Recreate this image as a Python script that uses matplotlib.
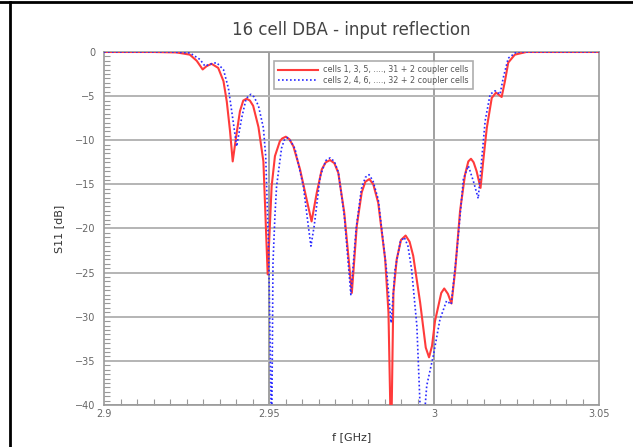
import matplotlib
matplotlib.use("Agg")
import matplotlib.pyplot as plt
from matplotlib.lines import Line2D
import numpy as np

# cells 1, 3, 5, ..., 31 + 2 coupler cells
f_odd = [2.900, 2.915, 2.922, 2.926, 2.9281, 2.9299, 2.9311, 2.9326, 2.9346, 2.9362,
         2.9372, 2.9382, 2.9390, 2.9400, 2.9412, 2.9422, 2.9432, 2.9442, 2.9452, 2.9468,
         2.9483, 2.9496, 2.9508, 2.9518, 2.9533, 2.9540, 2.9551, 2.9562, 2.9574, 2.9594,
         2.9614, 2.9629, 2.9645, 2.9660, 2.9672, 2.9685, 2.9698, 2.9710, 2.9728, 2.9751,
         2.9766, 2.9781, 2.9792, 2.9804, 2.9816, 2.9831, 2.9852, 2.9862, 2.9870, 2.9877,
         2.9887, 2.9900, 2.9914, 2.9926, 2.9937, 2.9958, 2.9975, 2.9985, 2.9994, 3.0003,
         3.0022, 3.0031, 3.0042, 3.0053, 3.0064, 3.0079, 3.0094, 3.0104, 3.0112, 3.0120,
         3.0129, 3.0141, 3.0149, 3.0160, 3.0175, 3.0188, 3.0205, 3.0215, 3.0225, 3.0245,
         3.028, 3.050]
s11_odd = [0, 0, -0.05, -0.3, -1.0, -1.98, -1.6, -1.34, -1.8, -3.3,
           -5.6, -9.0, -12.4, -9.7, -6.7, -5.5, -5.3, -5.5, -6.1, -8.5,
           -12.4, -25.2, -15.2, -11.8, -10.1, -9.8, -9.6, -9.9, -10.7, -13.3,
           -16.7, -19.2, -15.9, -13.3, -12.5, -12.25, -12.6, -13.7, -18.2, -27.3,
           -19.7, -15.9, -14.7, -14.4, -15.0, -17.1, -23.5, -29.5, -45, -27.3,
           -23.5, -21.3, -20.8, -21.5, -23.1, -28.4, -33.5, -34.6, -33.3, -30.5,
           -27.3, -26.8, -27.4, -28.5, -24.8, -18.0, -13.9, -12.4, -12.1, -12.5,
           -13.5, -15.4, -12.4, -8.6, -5.2, -4.6, -5.1, -3.3, -1.2, -0.3,
           0, 0]

# cells 2, 4, 6, ..., 32 + 2 coupler cells
f_even = [2.900, 2.920, 2.926, 2.9291, 2.9306, 2.9320, 2.9341, 2.9362, 2.9377, 2.9390,
          2.9402, 2.9417, 2.9430, 2.9437, 2.9445, 2.9455, 2.9468, 2.9483, 2.9490, 2.9499,
          2.9503, 2.9508, 2.9512, 2.9518, 2.9523, 2.9538, 2.9546, 2.9555, 2.9566, 2.9579,
          2.9604, 2.9619, 2.9627, 2.9637, 2.9655, 2.9672, 2.9685, 2.9698, 2.9710, 2.9728,
          2.9748, 2.9764, 2.9780, 2.9792, 2.9803, 2.9815, 2.9831, 2.9857, 2.9870, 2.9882,
          2.9898, 2.9910, 2.9921, 2.9932, 2.9948, 2.9963, 2.9978, 2.9998, 3.0018, 3.0038,
          3.0052, 3.0069, 3.0089, 3.0104, 3.0119, 3.0134, 3.0144, 3.0155, 3.0170, 3.0185,
          3.0200, 3.0210, 3.0225, 3.025, 3.050]
s11_even = [0, 0, -0.1, -0.85, -1.6, -1.4, -1.2, -2.0, -4.1, -7.5,
            -10.7, -7.5, -5.4, -5.0, -4.8, -5.1, -6.1, -8.6, -11.8, -22.7,
            -32, -45, -24, -18.5, -15.2, -10.9, -10.0, -9.7, -10.1, -11.0,
            -15.2, -19.7, -22.0, -19.7, -14.1, -12.3, -12.0, -12.4, -13.6, -18.5,
            -27.5, -20, -15.5, -14.2, -13.9, -14.6, -16.7, -25.0, -30.7, -24.6,
            -21.5, -21.0, -22.0, -24.6, -31.0, -45, -37.8, -34.4, -30.3, -28.2,
            -28.6, -22.7, -14.4, -12.9, -14.6, -16.6, -12.4, -7.8, -4.8, -4.4,
            -4.8, -2.9, -0.7, 0, 0]

labels = ["cells 1, 3, 5, ...., 31 + 2 coupler cells",
          "cells 2, 4, 6, ...., 32 + 2 coupler cells"]

fig = plt.figure(figsize=(6.33, 4.47), dpi=100)
ax = fig.add_axes([0.1643, 0.094, 0.782, 0.7897])

ax.plot(f_odd, s11_odd, color="#ff3b3b", lw=1.5, label=labels[0], zorder=3)
ax.plot(f_even, s11_even, color="#2a2aff", lw=1.2, ls=(0, (1, 1.4)), label=labels[1], zorder=4)

ax.set_xlim(2.9, 3.05)
ax.set_ylim(-40, 0)
ax.set_xticks([2.9, 2.95, 3.0, 3.05])
ax.set_xticklabels(["2.9", "2.95", "3", "3.05"])
ax.set_yticks(np.arange(-40, 1, 5))
ax.set_yticks(np.arange(-40, 0.1, 0.5), minor=True)
ax.set_xticks(np.arange(2.9, 3.0501, 0.005), minor=True)

ax.grid(True, axis="y", which="major", color="#b4b4b4", lw=1.4)
for xv in [2.95, 3.0]:
    ax.axvline(xv, color="#a0a0a0", lw=1.4, zorder=1)

ax.tick_params(axis="both", which="both", direction="in", colors="#999999",
               labelcolor="#666666", labelsize=7)
ax.tick_params(axis="y", which="major", length=0, pad=6)
ax.tick_params(axis="y", which="minor", length=4, width=0.8)
ax.tick_params(axis="x", which="minor", length=4, width=0.8)
ax.tick_params(axis="x", which="major", length=0, pad=3)
for sp in ax.spines.values():
    sp.set_color("#999999")
    sp.set_linewidth(1.2)

ax.set_title("16 cell DBA - input reflection", fontsize=12, color="#444444", pad=12)
ax.set_xlabel("f [GHz]", fontsize=8, color="#333333", labelpad=9)
ax.set_ylabel("S11 [dB]", fontsize=8, color="#333333", labelpad=8)

leg = ax.legend(loc="upper left", bbox_to_anchor=(0.335, 0.985), fontsize=5.8,
                frameon=True, fancybox=False, handlelength=5, borderpad=0.5,
                labelspacing=0.2, handletextpad=0.6)
leg.get_frame().set_edgecolor("#999999")
leg.get_frame().set_linewidth(1.2)
for t in leg.get_texts():
    t.set_color("#555555")

# outer border (top and left)
fig.add_artist(Line2D([0.0, 1.0], [0.995, 0.995], transform=fig.transFigure, color="black", lw=2))
fig.add_artist(Line2D([0.016, 0.016], [0.0, 0.995], transform=fig.transFigure, color="black", lw=2))

fig.savefig("out.png", dpi=100)
